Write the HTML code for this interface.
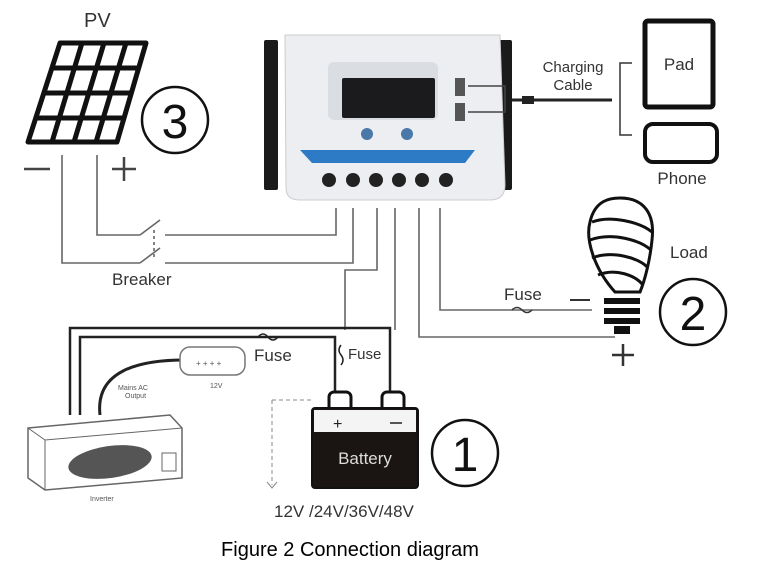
<!DOCTYPE html>
<html><head><meta charset="utf-8"><style>
html,body{margin:0;padding:0;background:#fff;}
svg{display:block;font-family:"Liberation Sans",sans-serif;}
</style></head><body>
<svg width="758" height="566" viewBox="0 0 758 566" xmlns="http://www.w3.org/2000/svg">
<rect width="758" height="566" fill="#fff"/>
<!-- PV panel -->
<text x="84" y="27" font-size="20" fill="#333">PV</text>
<g stroke="#111" stroke-width="5" fill="#fff" stroke-linejoin="round">
<path d="M60,43 L146,43 L117,142 L28,142 Z"/>
<g fill="none">
<line x1="82" y1="43" x2="52" y2="142"/><line x1="104" y1="43" x2="74" y2="142"/><line x1="126" y1="43" x2="96" y2="142"/>
<line x1="53" y1="68" x2="139" y2="68"/><line x1="45" y1="93" x2="132" y2="93"/><line x1="37" y1="118" x2="124" y2="118"/>
</g>
</g>
<circle cx="175" cy="120" r="33" fill="none" stroke="#111" stroke-width="2.5"/>
<text x="175" y="138" font-size="48" text-anchor="middle" fill="#111">3</text>
<line x1="24" y1="169" x2="50" y2="169" stroke="#444" stroke-width="2.5"/>
<line x1="112" y1="169" x2="136" y2="169" stroke="#444" stroke-width="2.5"/><line x1="124" y1="157" x2="124" y2="181" stroke="#444" stroke-width="2.5"/>
<!-- wires -->
<g stroke="#666" stroke-width="1.6" fill="none">
<polyline points="97,155 97,235 140,235"/><line x1="140" y1="235" x2="160" y2="220"/><polyline points="165,235 336,235 336,208"/>
<polyline points="62,155 62,263 140,263"/><line x1="140" y1="263" x2="160" y2="248"/><polyline points="165,263 353,263 353,208"/>
<line x1="154" y1="230" x2="154" y2="258" stroke-dasharray="3,3"/>
<polyline points="377,208 377,270 345,270 345,330"/>
<polyline points="395,208 395,330"/>
<polyline points="419,208 419,337 615,337"/>
<polyline points="440,208 440,310 592,310"/>
</g>
<text x="112" y="285" font-size="17" fill="#333">Breaker</text>
<!-- inverter lines -->
<g stroke="#222" stroke-width="2.5" fill="none">
<polyline points="70,415 70,328 390,328 390,395"/>
<polyline points="80,415 80,337 335,337 335,395"/>
</g>
<path d="M258,337 q5,-6 10,0 q5,6 10,0" stroke="#222" fill="none" stroke-width="1.5"/>
<text x="254" y="361" font-size="17" fill="#333">Fuse</text>
<path d="M341,345 q-4,5 0,10 q4,5 0,10" stroke="#222" fill="none" stroke-width="1.5"/>
<text x="348" y="359" font-size="15" fill="#333">Fuse</text>
<!-- socket -->
<path d="M100,415 C95,370 140,360 185,360" stroke="#222" stroke-width="3" fill="none"/>
<rect x="180" y="347" width="65" height="28" rx="10" fill="#fff" stroke="#777" stroke-width="1.5"/>
<text x="196" y="366" font-size="8" fill="#555">+ +   + +</text>
<text x="210" y="388" font-size="7" fill="#555">12V</text>
<text x="118" y="390" font-size="7" fill="#555">Mains AC</text>
<text x="125" y="398" font-size="7" fill="#555">Output</text>
<!-- inverter box -->
<path d="M28,428 L170,415 L182,428 L182,478 L45,490 L28,478 Z" fill="#fff" stroke="#666" stroke-width="1.5"/>
<line x1="28" y1="428" x2="45" y2="440" stroke="#666"/><line x1="45" y1="440" x2="182" y2="428" stroke="#666"/><line x1="45" y1="440" x2="45" y2="490" stroke="#666"/>
<ellipse cx="110" cy="462" rx="42" ry="16" fill="#555" transform="rotate(-8 110 462)"/>
<rect x="162" y="453" width="14" height="18" fill="#fff" stroke="#666"/>
<text x="90" y="501" font-size="7" fill="#555">Inverter</text>
<line x1="272" y1="400" x2="312" y2="400" stroke="#888" stroke-dasharray="4,3"/>
<line x1="272" y1="400" x2="272" y2="485" stroke="#888" stroke-dasharray="4,3"/>
<path d="M267,482 l5,6 l5,-6" stroke="#888" fill="none"/>
<!-- battery -->
<rect x="329" y="392" width="22" height="20" rx="5" fill="#fff" stroke="#111" stroke-width="3"/>
<rect x="382" y="392" width="22" height="20" rx="5" fill="#fff" stroke="#111" stroke-width="3"/>
<rect x="312" y="408" width="106" height="80" rx="3" fill="#1a1512" stroke="#111" stroke-width="2"/>
<rect x="314" y="410" width="102" height="22" fill="#f4f4f4"/>
<text x="333" y="429" font-size="16" fill="#222">+</text>
<line x1="390" y1="423" x2="402" y2="423" stroke="#555" stroke-width="2"/>
<text x="365" y="464" font-size="17" fill="#ddd" text-anchor="middle">Battery</text>
<circle cx="465" cy="453" r="33" fill="none" stroke="#111" stroke-width="2.5"/>
<text x="465" y="471" font-size="48" text-anchor="middle" fill="#111">1</text>
<text x="274" y="517" font-size="17" fill="#333">12V /24V/36V/48V</text>
<text x="350" y="556" font-size="20" text-anchor="middle" fill="#000">Figure 2 Connection diagram</text>
<!-- controller -->
<rect x="264" y="40" width="14" height="150" rx="2" fill="#1a1a1a"/>
<rect x="498" y="40" width="14" height="150" rx="2" fill="#1a1a1a"/>
<path d="M285,35 L500,35 L505,185 Q505,200 490,200 L300,200 Q286,200 286,188 Z" fill="#eceef1" stroke="#ccc"/>
<rect x="328" y="62" width="110" height="58" rx="6" fill="#dadde2"/>
<rect x="342" y="78" width="93" height="40" rx="2" fill="#1b1b1e"/>
<circle cx="367" cy="134" r="6" fill="#4a78a8"/><circle cx="407" cy="134" r="6" fill="#4a78a8"/>
<path d="M300,150 L475,150 L465,163 L312,163 Z" fill="#2d7bc4"/>
<rect x="455" y="78" width="10" height="18" fill="#555"/><rect x="455" y="103" width="10" height="18" fill="#555"/>
<g fill="#222"><circle cx="329" cy="180" r="7"/><circle cx="353" cy="180" r="7"/><circle cx="376" cy="180" r="7"/><circle cx="399" cy="180" r="7"/><circle cx="422" cy="180" r="7"/><circle cx="446" cy="180" r="7"/></g>
<g stroke="#444" stroke-width="1.5" fill="none"><polyline points="468,86 505,86 505,112 468,112"/></g>
<line x1="512" y1="100" x2="612" y2="100" stroke="#222" stroke-width="3"/>
<rect x="522" y="96" width="12" height="8" fill="#222"/>
<text x="573" y="72" font-size="15" fill="#333" text-anchor="middle">Charging</text>
<text x="573" y="90" font-size="15" fill="#333" text-anchor="middle">Cable</text>
<polyline points="632,63 620,63 620,135 632,135" stroke="#333" stroke-width="1.5" fill="none"/>
<rect x="645" y="21" width="68" height="86" rx="3" fill="#fff" stroke="#111" stroke-width="5"/>
<text x="679" y="70" font-size="17" fill="#333" text-anchor="middle">Pad</text>
<rect x="645" y="124" width="72" height="38" rx="8" fill="#fff" stroke="#111" stroke-width="4"/>
<text x="682" y="184" font-size="17" fill="#333" text-anchor="middle">Phone</text>
<!-- bulb -->
<g stroke="#111" stroke-width="3" fill="#fff">
<path d="M615,292 C595,270 585,240 590,222 C595,200 610,198 620,198 C645,198 655,215 652,240 C650,260 645,280 640,292 Z"/>
<path d="M592,222 C610,215 640,222 652,232 M590,240 C612,232 640,240 651,250 M592,258 C612,250 640,258 648,268 M598,275 C615,268 635,275 643,285" fill="none"/>
</g>
<g fill="#111"><rect x="604" y="298" width="36" height="6"/><rect x="604" y="308" width="36" height="6"/><rect x="604" y="318" width="36" height="6"/><rect x="614" y="326" width="16" height="8"/></g>
<line x1="570" y1="300" x2="590" y2="300" stroke="#333" stroke-width="2"/>
<path d="M512,310 q5,-5 10,0 q5,5 10,0" stroke="#333" fill="none" stroke-width="1.5"/>
<text x="504" y="300" font-size="17" fill="#333">Fuse</text>
<text x="670" y="258" font-size="17" fill="#333">Load</text>
<circle cx="693" cy="312" r="33" fill="none" stroke="#111" stroke-width="2.5"/>
<text x="693" y="330" font-size="48" text-anchor="middle" fill="#111">2</text>
<line x1="612" y1="355" x2="634" y2="355" stroke="#333" stroke-width="2.5"/><line x1="623" y1="344" x2="623" y2="366" stroke="#333" stroke-width="2.5"/>
</svg>
</body></html>
